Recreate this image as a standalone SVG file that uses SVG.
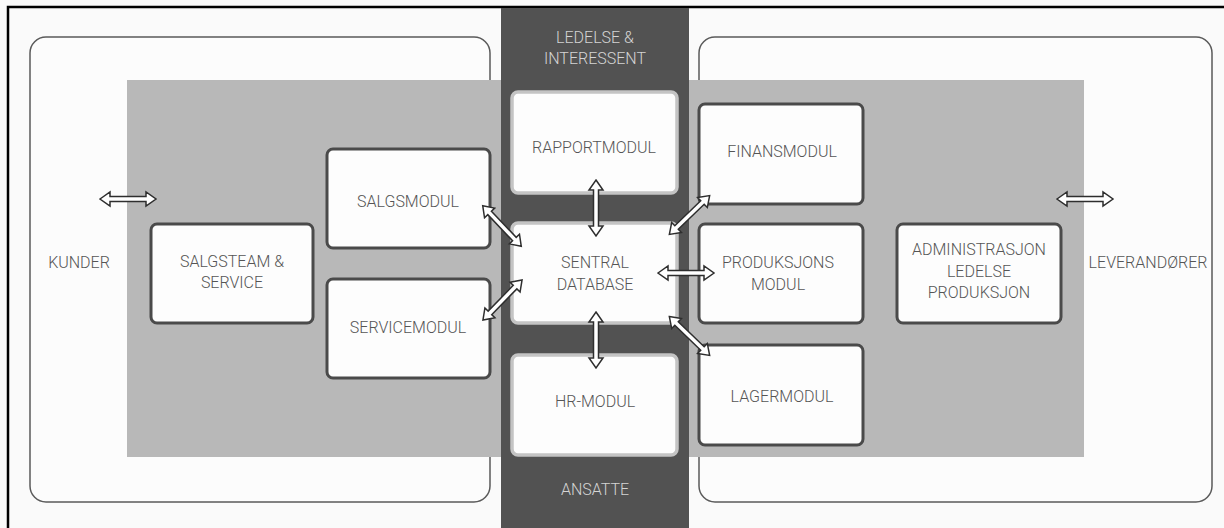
<svg xmlns="http://www.w3.org/2000/svg" width="1224" height="528" viewBox="0 0 1224 528">
  <style>
    .zone { fill: #fcfcfc; stroke: #5a5a5a; stroke-width: 1.5; }
    .box { fill: #fdfdfd; stroke: #4a4a4a; stroke-width: 3; }
    .box-core { fill: #fdfdfd; stroke: #c4c4c4; stroke-width: 3.5; }
    .lbl { font-family: Roboto, "Liberation Sans", sans-serif; font-weight: 300; font-size: 16px; fill: #555555; text-anchor: middle; }
    .lbl-dark { font-family: Roboto, "Liberation Sans", sans-serif; font-weight: 300; font-size: 16px; fill: #d4d4d4; text-anchor: middle; }
    .arrow { fill: #ffffff; stroke: #2e2e2e; stroke-width: 1.5; stroke-linejoin: miter; }
  </style>
  <defs>
    <!-- hollow double-headed arrow, centred on the origin, pointing along x -->
    <path id="dbl" d="M -28 0 L -18 -7 L -18 -2.5 L 18 -2.5 L 18 -7 L 28 0 L 18 7 L 18 2.5 L -18 2.5 L -18 7 Z"/>
  </defs>

  <!-- page -->
  <rect x="0" y="0" width="1224" height="528" fill="#fafafa"/>
  <rect x="8" y="7" width="1240" height="540" fill="none" stroke="#000000" stroke-width="2.5"/>

  <!-- outer zones: customers and suppliers -->
  <rect class="zone" x="30" y="37" width="460" height="465" rx="16"/>
  <rect class="zone" x="699" y="37" width="513" height="465" rx="16"/>

  <!-- company band -->
  <rect x="127" y="80" width="957" height="377" fill="#b8b8b8"/>

  <!-- management / employees column -->
  <rect x="501" y="8" width="188" height="520" fill="#525252"/>

  <text class="lbl" x="79" y="268">KUNDER</text>
  <text class="lbl" x="1148" y="268">LEVERANDØRER</text>
  <text class="lbl-dark" x="595" y="43">LEDELSE &amp;</text>
  <text class="lbl-dark" x="595" y="64">INTERESSENT</text>
  <text class="lbl-dark" x="595" y="495">ANSATTE</text>

  <g id="salgsteam">
    <rect class="box" x="151" y="224" width="162" height="99" rx="6"/>
    <text class="lbl" x="232" y="267">SALGSTEAM &amp;</text>
    <text class="lbl" x="232" y="288">SERVICE</text>
  </g>
  <g id="salgsmodul">
    <rect class="box" x="327" y="149" width="163" height="99" rx="6"/>
    <text class="lbl" x="408" y="207">SALGSMODUL</text>
  </g>
  <g id="servicemodul">
    <rect class="box" x="327" y="279" width="163" height="99" rx="6"/>
    <text class="lbl" x="408" y="333">SERVICEMODUL</text>
  </g>
  <g id="rapportmodul">
    <rect class="box-core" x="512" y="92" width="165" height="101" rx="6"/>
    <text class="lbl" x="594" y="153">RAPPORTMODUL</text>
  </g>
  <g id="sentral-database">
    <rect class="box-core" x="512" y="223" width="165" height="100" rx="6"/>
    <text class="lbl" x="595" y="268">SENTRAL</text>
    <text class="lbl" x="595" y="290">DATABASE</text>
  </g>
  <g id="hr-modul">
    <rect class="box-core" x="512" y="355" width="165" height="100" rx="6"/>
    <text class="lbl" x="595" y="407">HR-MODUL</text>
  </g>
  <g id="finansmodul">
    <rect class="box" x="699" y="104" width="164" height="100" rx="6"/>
    <text class="lbl" x="782" y="157">FINANSMODUL</text>
  </g>
  <g id="produksjonsmodul">
    <rect class="box" x="699" y="224" width="164" height="99" rx="6"/>
    <text class="lbl" x="778" y="268">PRODUKSJONS</text>
    <text class="lbl" x="778" y="290">MODUL</text>
  </g>
  <g id="lagermodul">
    <rect class="box" x="699" y="345" width="164" height="100" rx="6"/>
    <text class="lbl" x="782" y="402">LAGERMODUL</text>
  </g>
  <g id="administrasjon">
    <rect class="box" x="897" y="224" width="164" height="99" rx="6"/>
    <text class="lbl" x="979" y="255">ADMINISTRASJON</text>
    <text class="lbl" x="979" y="277">LEDELSE</text>
    <text class="lbl" x="979" y="298">PRODUKSJON</text>
  </g>

  <!-- connectors -->
  <g id="connectors">
    <use href="#dbl" class="arrow" transform="translate(128 199)"/>
    <use href="#dbl" class="arrow" transform="translate(1085 199)"/>
    <use href="#dbl" class="arrow" transform="translate(596 208) rotate(90)"/>
    <use href="#dbl" class="arrow" transform="translate(596 340) rotate(90)"/>
    <use href="#dbl" class="arrow" transform="translate(502 226) rotate(46.5)"/>
    <use href="#dbl" class="arrow" transform="translate(502.5 300) rotate(-45.7)"/>
    <use href="#dbl" class="arrow" transform="translate(689.5 215) rotate(-44)"/>
    <use href="#dbl" class="arrow" transform="translate(686 273)"/>
    <use href="#dbl" class="arrow" transform="translate(689.5 336) rotate(44)"/>
  </g>
</svg>
